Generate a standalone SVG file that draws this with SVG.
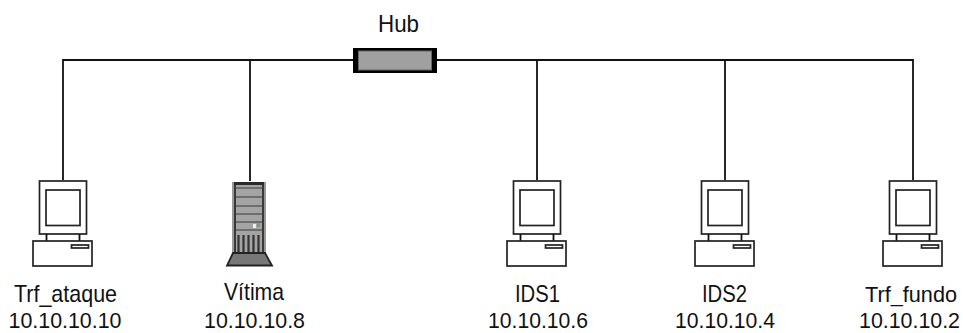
<svg xmlns="http://www.w3.org/2000/svg" width="963" height="333" viewBox="0 0 963 333">
<style>
text{font-family:"Liberation Sans",Arial,sans-serif;font-size:24px;fill:#111;text-anchor:middle}
text.ip{font-size:22px}
text.n{font-size:21.500px}
.l{fill:none;stroke:#111;stroke-width:1.800}
.o{fill:#fff;stroke:#222;stroke-width:1.700}
</style>
<defs>
<g id="pc">
<rect class="o" x="39.500" y="181" width="47" height="53"/>
<rect class="o" x="46" y="190" width="34" height="35.500"/>
<path class="l" d="M46.500 234V241M79.500 234V241"/>
<rect class="o" x="33" y="241" width="59" height="25"/>
<rect class="o" x="71.500" y="245" width="17" height="3"/>
</g>
</defs>
<rect width="963" height="333" fill="#fff"/>
<g id="connectors">
<path class="l" d="M63 180V60H353M437 60H913V180M250 60V181M537 60V180M725 60V180"/>
</g>
<g id="hub">
<rect x="353" y="48" width="84" height="25" fill="#000"/>
<rect x="358.500" y="51" width="73" height="19" fill="#a0a0a0" stroke="#666" stroke-width="1"/>
<text x="398.500" y="32" textLength="41" lengthAdjust="spacingAndGlyphs">Hub</text>
</g>
<g id="trf_ataque"><use href="#pc"/><text x="65.500" y="302" textLength="103" lengthAdjust="spacingAndGlyphs">Trf_ataque</text><text class="ip" x="65" y="328" textLength="113" lengthAdjust="spacingAndGlyphs">10.10.10.10</text></g>
<g id="vitima">
<rect x="232" y="182" width="34" height="72" fill="#a4a4a4"/>
<rect x="232" y="182" width="2" height="72" fill="#999"/>
<rect x="264" y="182" width="2" height="72" fill="#999"/>
<rect x="234" y="182" width="2" height="72" fill="#3a3a3a"/>
<rect x="262" y="182" width="2" height="72" fill="#3a3a3a"/>
<rect x="234" y="182" width="30" height="3" fill="#2a2a2a"/>
<path d="M236 188H262M236 197H262M236 206H262M236 214H262M236 222H262M236 230H262" stroke="#5c5c5c" stroke-width="1.400"/>
<rect x="253" y="224" width="3" height="4" fill="#eee"/>
<rect x="257" y="223" width="3" height="4" fill="#7fa060"/>
<path d="M238.500 235V255M243.500 235V255M248.500 235V255M253.500 235V255M258.500 235V255" stroke="#333" stroke-width="2.200"/>
<path d="M233 253L227 265.500H272L265 253Z" fill="#777" stroke="#222" stroke-width="1.800"/>
<text x="254" y="299.500" textLength="60" lengthAdjust="spacingAndGlyphs">Vítima</text><text class="ip" x="254.500" y="328" textLength="101" lengthAdjust="spacingAndGlyphs">10.10.10.8</text>
</g>
<g id="ids1"><use href="#pc" x="474"/><text x="537.500" y="302" textLength="45" lengthAdjust="spacingAndGlyphs">IDS1</text><text class="ip" x="538" y="328" textLength="100" lengthAdjust="spacingAndGlyphs">10.10.10.6</text></g>
<g id="ids2"><use href="#pc" x="662"/><text x="724.500" y="302" textLength="45" lengthAdjust="spacingAndGlyphs">IDS2</text><text class="ip" x="725" y="328" textLength="100" lengthAdjust="spacingAndGlyphs">10.10.10.4</text></g>
<g id="trf_fundo"><use href="#pc" x="850"/><text class="n" x="911" y="302" textLength="92" lengthAdjust="spacingAndGlyphs">Trf_fundo</text><text class="ip" x="909.500" y="328" textLength="101" lengthAdjust="spacingAndGlyphs">10.10.10.2</text></g>
</svg>
